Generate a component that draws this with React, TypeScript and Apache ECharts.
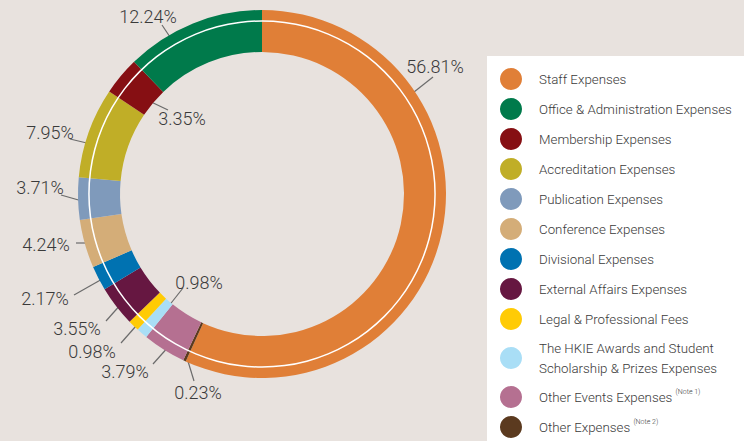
import React, { useEffect, useRef } from 'react';
import * as echarts from 'echarts';

// Data, listed clockwise from 12 o'clock
const categories = [
  'Staff Expenses',
  'Other Expenses',
  'Other Events Expenses',
  'The HKIE Awards and Student Scholarship & Prizes Expenses',
  'Legal & Professional Fees',
  'External Affairs Expenses',
  'Divisional Expenses',
  'Conference Expenses',
  'Publication Expenses',
  'Accreditation Expenses',
  'Membership Expenses',
  'Office & Administration Expenses',
];
const shares = [56.81, 0.23, 3.79, 0.98, 0.98, 3.55, 2.17, 4.24, 3.71, 7.95, 3.35, 12.24];

const legendOrder = [
  'Staff Expenses',
  'Office & Administration Expenses',
  'Membership Expenses',
  'Accreditation Expenses',
  'Publication Expenses',
  'Conference Expenses',
  'Divisional Expenses',
  'External Affairs Expenses',
  'Legal & Professional Fees',
  'The HKIE Awards and Student Scholarship & Prizes Expenses',
  'Other Events Expenses',
  'Other Expenses',
];
const legendNotes: Record<string, string> = {
  'Other Events Expenses': '(Note 1)',
  'Other Expenses': '(Note 2)',
};

// Styles
const colors = [
  '#e07f37', '#5b3a1f', '#b57091', '#a9def6', '#ffcb05', '#661741',
  '#0072b1', '#d4ad78', '#7f9abb', '#c0ae27', '#860f13', '#007a4b',
];

// Label layout: text centre and leader line [from, to]
const labelSpots = [
  { tx: 435, ty: 66, l: [[414, 92], [433, 77]] },
  { tx: 198, ty: 392, l: [[187, 358], [194, 381]] },
  { tx: 125, ty: 371, l: [[170, 345], [153, 364]] },
  { tx: 199, ty: 282, l: [[168, 307], [183, 288]] },
  { tx: 92, ty: 351, l: [[136, 326], [121, 343]] },
  { tx: 77, ty: 328, l: [[122, 303], [106, 321]] },
  { tx: 45, ty: 298, l: [[104, 278], [74, 295]] },
  { tx: 46, ty: 244, l: [[88, 243], [76, 243]] },
  { tx: 40, ty: 187, l: [[82, 201], [61, 195]] },
  { tx: 50, ty: 132, l: [[91, 144], [70, 139]] },
  { tx: 182, ty: 118, l: [[147, 100], [168, 110]] },
  { tx: 148, ty: 16, l: [[172, 40], [162, 25]] },
];

const HKIE = 'The HKIE Awards and Student Scholarship & Prizes Expenses';

export default function App() {
  const ref = useRef<HTMLDivElement>(null);
  useEffect(() => {
    if (!ref.current) return;
    const chart = echarts.init(ref.current, undefined, { renderer: 'svg' });
    chart.setOption({
      animation: false,
      backgroundColor: '#e8e2de',
      graphic: [
        {
          type: 'rect',
          z: 0,
          shape: { x: 487, y: 56, width: 270, height: 400 },
          style: { fill: '#ffffff' },
        },
      ],
      legend: {
        orient: 'vertical',
        left: 500,
        top: 68,
        padding: 0,
        itemGap: 8,
        itemWidth: 22,
        itemHeight: 22,
        icon: 'circle',
        selectedMode: false,
        data: legendOrder.map((n) =>
          n === HKIE ? { name: n, textStyle: { lineHeight: 20 } } : { name: n }
        ),
        formatter: (name: string) => {
          if (name === HKIE) return 'The HKIE Awards and Student\nScholarship & Prizes Expenses';
          if (legendNotes[name]) return name + ' {sup|' + legendNotes[name] + '}';
          return name;
        },
        textStyle: {
          fontFamily: 'Roboto',
          fontWeight: 300,
          fontSize: 13.3,
          lineHeight: 18,
          color: '#3a3a3a',
          padding: [0, 0, 0, 12],
          rich: {
            sup: {
              fontFamily: 'Roboto',
              fontWeight: 300,
              fontSize: 7,
              lineHeight: 8,
              verticalAlign: 'top',
              color: '#3a3a3a',
            },
          },
        },
      },
      series: [
        {
          type: 'pie',
          center: [262, 194],
          radius: [142, 184],
          startAngle: 90,
          clockwise: true,
          avoidLabelOverlap: false,
          silent: true,
          itemStyle: { borderWidth: 0 },
          data: categories.map((name, i) => ({
            name,
            value: shares[i],
            itemStyle: { color: colors[i] },
          })),
          label: {
            show: true,
            position: 'outside',
            formatter: (p: any) => p.value.toFixed(2) + '%',
            fontFamily: 'Roboto',
            fontWeight: 300,
            fontSize: 18,
            color: '#3a3a3a',
          },
          labelLine: {
            show: true,
            lineStyle: { color: '#6b6b6b', width: 1.2 },
          },
          labelLayout: (params: any) => {
            const s = labelSpots[params.dataIndex];
            if (!s) return {};
            return {
              x: s.tx,
              y: s.ty,
              align: 'center',
              verticalAlign: 'middle',
              labelLinePoints: [s.l[0], s.l[1], s.l[1]],
            };
          },
        },
        {
          type: 'pie',
          center: [262, 194],
          radius: [172.3, 173.8],
          silent: true,
          label: { show: false },
          labelLine: { show: false },
          itemStyle: { color: '#ffffff' },
          data: [{ name: 'ring', value: 1 }],
        },
      ],
    });
    return () => chart.dispose();
  }, []);
  return (
    <div
      ref={ref}
      style={{ position: 'fixed', left: 0, top: 0, width: 744, height: 441 }}
    />
  );
}
